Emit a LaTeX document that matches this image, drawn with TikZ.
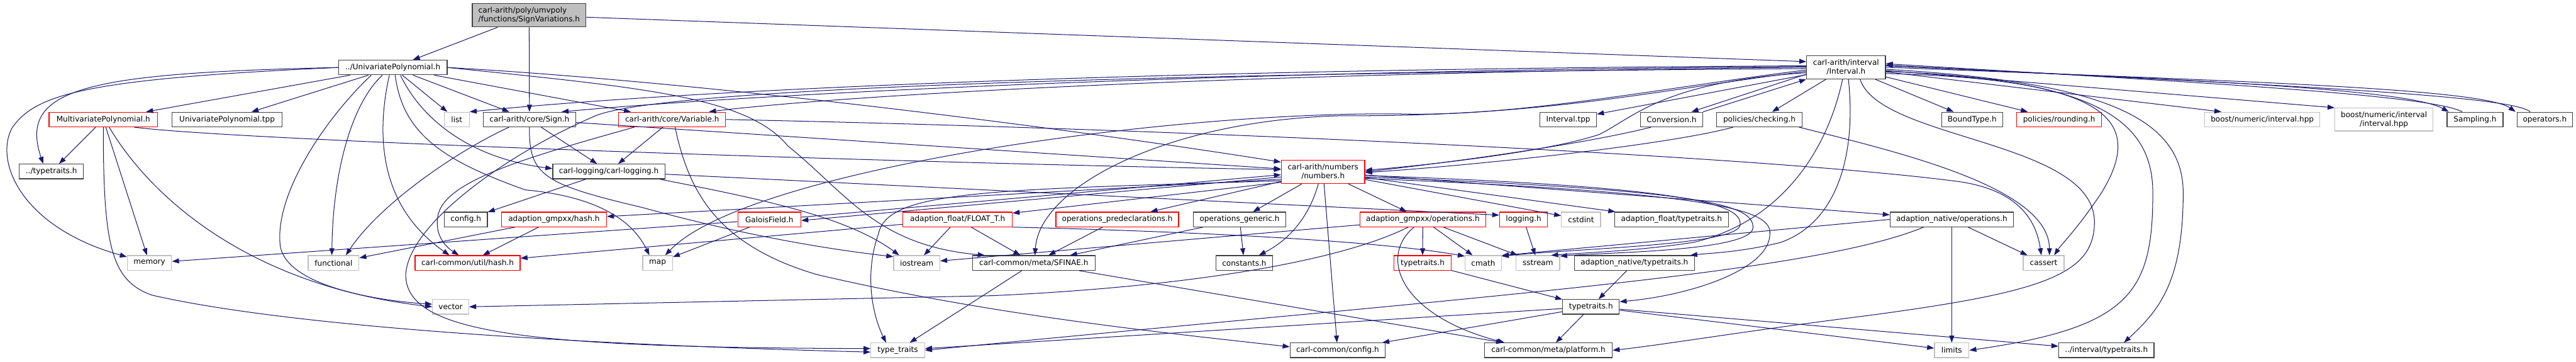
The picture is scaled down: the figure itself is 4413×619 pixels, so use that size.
\documentclass[tikz,border=0pt]{standalone}
\usepackage{fontspec}
\setmainfont{DejaVu Sans}
\usetikzlibrary{arrows.meta}
\definecolor{edgeblue}{HTML}{191970}
\definecolor{sysgray}{HTML}{BFBFBF}
\definecolor{boxline}{HTML}{404040}

\begin{document}
\begin{tikzpicture}[x=1pt,y=-1pt,
  font=\fontsize{13}{15}\selectfont,
  incl/.style={draw=boxline,fill=white,line width=1.3pt,inner sep=0pt,minimum height=25pt,minimum width=#1pt},
  redincl/.style={incl=#1,draw=red},
  sysincl/.style={incl=#1,draw=sysgray},
  rootincl/.style={incl=#1,fill=sysgray,minimum height=40pt,align=left},
  tall/.style={minimum height=40pt,align=center},
  dep/.style={draw=edgeblue,line width=1.1pt,-{Triangle[length=12pt,width=8.5pt]}}]
\path[use as bounding box,fill=white] (0,0) rectangle (4413,619);

% nodes, top to bottom
\node[rootincl=195] (sv) at (906.5,26) {carl-arith/poly/umvpoly\\/functions/SignVariations.h};
\node[incl=186] (up) at (673,115.5) {../UnivariatePolynomial.h};
\node[incl=135,tall] (interval) at (3162.5,115) {carl-arith/interval\\/Interval.h};

\node[redincl=186] (mp) at (177,204.5) {MultivariatePolynomial.h};
\node[incl=188] (uptpp) at (389,204.5) {UnivariatePolynomial.tpp};
\node[sysincl=43] (list) at (782.5,204.5) {list};
\node[incl=158] (sign) at (907,204.5) {carl-arith/core/Sign.h};
\node[redincl=183] (variable) at (1151.5,204.5) {carl-arith/core/Variable.h};
\node[incl=97] (intervaltpp) at (2686.5,204.5) {Interval.tpp};
\node[incl=107] (conversion) at (2863.5,204.5) {Conversion.h};
\node[incl=146] (checking) at (3014,204.5) {policies/checking.h};
\node[incl=105] (boundtype) at (3378.5,204.5) {BoundType.h};
\node[redincl=145] (rounding) at (3527.5,204.5) {policies/rounding.h};
\node[sysincl=197] (boostint) at (3875.5,204.5) {boost/numeric/interval.hpp};
\node[sysincl=168,tall,minimum height=39pt] (boostintint) at (4084,204.5) {boost/numeric/interval\\/interval.hpp};
\node[incl=96] (sampling) at (4240,204.5) {Sampling.h};
\node[incl=95] (operators) at (4359.5,204.5) {operators.h};

\node[incl=110] (reltraits) at (88,293.5) {../typetraits.h};
\node[incl=192] (clogging) at (1043,293.5) {carl-logging/carl-logging.h};
\node[redincl=143,tall] (numbers) at (2266.5,294) {carl-arith/numbers\\/numbers.h};

\node[incl=74] (config) at (798,375.5) {config.h};
\node[redincl=180] (gmpxxhash) at (949,375.5) {adaption\_gmpxx/hash.h};
\node[redincl=108] (galois) at (1318,375.5) {GaloisField.h};
\node[redincl=187] (floatt) at (1640.5,375.5) {adaption\_float/FLOAT\_T.h};
\node[redincl=210] (opspre) at (1914,375.5) {operations\_predeclarations.h};
\node[incl=159] (opsgen) at (2123.5,375.5) {operations\_generic.h};
\node[redincl=215] (gmpxxops) at (2437.5,375.5) {adaption\_gmpxx/operations.h};
\node[redincl=82] (loggingh) at (2610,375.5) {logging.h};
\node[sysincl=67] (cstdint) at (2708.5,375.5) {cstdint};
\node[incl=195] (floattraits) at (2863.5,375.5) {adaption\_float/typetraits.h};
\node[incl=211] (nativeops) at (3343.5,375.5) {adaption\_native/operations.h};

\node[sysincl=76] (memory) at (256,450) {memory};
\node[sysincl=87] (functional) at (571.5,450) {functional};
\node[redincl=180] (utilhash) at (801,450) {carl-common/util/hash.h};
\node[sysincl=51] (map) at (1126.5,450) {map};
\node[sysincl=79] (iostream) at (1570.5,450) {iostream};
\node[incl=210] (sfinae) at (1771,450) {carl-common/meta/SFINAE.h};
\node[incl=97] (constants) at (2131.5,450) {constants.h};
\node[redincl=98] (redtraits) at (2437,450) {typetraits.h};
\node[sysincl=62] (cmath) at (2541,450) {cmath};
\node[sysincl=75] (sstream) at (2634.5,450) {sstream};
\node[incl=206] (nativetraits) at (2800,450) {adaption\_native/typetraits.h};
\node[sysincl=70] (cassert) at (3501,450) {cassert};

\node[sysincl=62] (vector) at (772,525) {vector};
\node[incl=97] (numtraits) at (2725.5,525) {typetraits.h};

\node[sysincl=92] (stdtraits) at (1538,599.5) {type\_traits};
\node[incl=163] (cconfig) at (2291.5,599.5) {carl-common/config.h};
\node[incl=219] (platform) at (2652.5,599.5) {carl-common/meta/platform.h};
\node[sysincl=59] (limits) at (3343.5,599.5) {limits};
\node[incl=163] (ivaltraits) at (3608.5,599.5) {../interval/typetraits.h};

% SignVariations.h
\draw[dep] (sv) -- (up);
\draw[dep] (sv) -- (sign);
\draw[dep] (sv) -- (interval.172);

% ../UnivariatePolynomial.h
\draw[dep] (up) -- (mp);
\draw[dep] (up) -- (uptpp);
\draw[dep] (up) -- (list);
\draw[dep] (up) -- (sign);
\draw[dep] (up) -- (variable);
\draw[dep] (up.west) .. controls (150,125) and (30,150) .. ([xshift=-14pt]reltraits.north);
\draw[dep] (up.west) .. controls (150,135) and (60,160) .. (20,220) .. controls (-10,280) and (40,390) .. (memory.165);
\draw[dep] ([xshift=-18pt]up.south) .. controls (600,180) and (570,300) .. ([xshift=-3pt]functional.north);
\draw[dep] ([xshift=-37pt]up.south) .. controls (560,200) and (470,330) .. (480,420) .. controls (490,490) and (650,515) .. (vector.172);
\draw[dep] ([xshift=-6pt]up.south) .. controls (640,250) and (660,360) .. ([xshift=-31pt]utilhash.north);
\draw[dep] ([xshift=4pt]up.south) .. controls (690,230) and (760,275) .. (900,325) .. controls (1010,335) and (1080,370) .. ([xshift=-14pt]map.north);
\draw[dep] ([xshift=13pt]up.south) .. controls (720,200) and (800,270) .. ([yshift=5pt]clogging.west);
\draw[dep] (up.east) .. controls (1200,140) and (1800,215) .. (numbers.167);
\draw[dep] (up.east) .. controls (1100,150) and (1280,165) .. (1350,250) .. controls (1450,330) and (1500,420) .. ([xshift=-84pt]sfinae.north);

% MultivariatePolynomial.h
\draw[dep] (mp) -- (reltraits);
\draw[dep] (mp) -- (memory);
\draw[dep] ([xshift=10pt]mp.south) .. controls (260,340) and (430,490) .. (vector.west);
\draw[dep] (mp.south) .. controls (177,420) and (190,480) .. (260,505) .. controls (500,560) and (1000,590) .. ([yshift=-3pt]stdtraits.west);
\draw[dep] ([xshift=53pt]mp.south) .. controls (400,240) and (1500,278) .. (numbers.177);

% carl-arith/core/Sign.h
\draw[dep] ([xshift=-35pt]sign.south) .. controls (780,260) and (650,350) .. ([xshift=21pt]functional.north);
\draw[dep] (sign) -- (clogging);
\draw[dep] (sign) -- (numbers.176);
\draw[dep] (sign.south) .. controls (906,300) and (930,315) .. (1100,355) .. controls (1300,410) and (1450,430) .. (iostream.165);

% carl-arith/core/Variable.h
\draw[dep] (variable) -- (clogging);
\draw[dep] ([xshift=-65pt]variable.south) .. controls (900,270) and (760,310) .. (750,370) .. controls (745,400) and (760,420) .. ([xshift=-15pt]utilhash.north);
\draw[dep] (variable.east) .. controls (2000,220) and (3000,265) .. (3350,310) .. controls (3470,325) and (3490,390) .. ([xshift=-4pt]cassert.north);
\draw[dep] ([xshift=5pt]variable.south) .. controls (1180,330) and (1230,420) .. (1400,470) .. controls (1700,540) and (2000,570) .. ([yshift=6pt]cconfig.west);

% carl-logging
\draw[dep] (clogging) -- (config);
\draw[dep] (clogging) -- (loggingh.170);
\draw[dep] ([xshift=87pt]clogging.south) .. controls (1300,340) and (1450,370) .. ([xshift=-30pt]iostream.north);

% hash.h and GaloisField.h
\draw[dep] (gmpxxhash) -- (utilhash);
\draw[dep] (gmpxxhash) -- (functional);
\draw[dep] (galois) -- (map);
\draw[dep] (galois) -- (memory);
\draw[dep] (galois.4) -- (numbers.184);
\draw[dep] (numbers.187) -- (galois.-2);

% numbers.h
\draw[dep] (numbers.190) -- (gmpxxhash);
\draw[dep] (numbers.194) -- (floatt);
\draw[dep] (numbers) -- (opspre);
\draw[dep] (numbers) -- (opsgen);
\draw[dep] (numbers) -- (gmpxxops);
\draw[dep] (numbers) -- (cstdint);
\draw[dep] (numbers) -- (floattraits);
\draw[dep] (numbers) -- (nativeops);
\draw[dep] (numbers) -- (cconfig);
\draw[dep] ([xshift=-8pt]numbers.south) .. controls (2240,380) and (2200,415) .. ([xshift=25pt]constants.north);
\draw[dep] (numbers.192) .. controls (1700,325) and (1520,325) .. (1505,400) .. controls (1480,470) and (1495,540) .. ([xshift=-20pt]stdtraits.north);
\draw[dep] (numbers.-5) .. controls (2900,320) and (2985,350) .. (2981,385) .. controls (2977,420) and (2700,425) .. (cmath.20);
\draw[dep] (numbers.-7) .. controls (2920,325) and (3005,350) .. (3003,390) .. controls (3000,430) and (2750,432) .. (sstream.17);
\draw[dep] (numbers.-9) .. controls (2950,330) and (3035,360) .. (3032,400) .. controls (3032,460) and (2900,505) .. (numtraits.10);

% FLOAT_T.h and operations
\draw[dep] (floatt) -- (iostream);
\draw[dep] (floatt) -- (sfinae);
\draw[dep] (floatt) -- (utilhash);
\draw[dep] (floatt.-8) .. controls (2000,395) and (2350,410) .. (cmath.160);
\draw[dep] (opspre) -- (sfinae);
\draw[dep] (opsgen) -- (sfinae);
\draw[dep] (opsgen) -- (constants);

% adaption_gmpxx/operations.h
\draw[dep] (gmpxxops) -- (redtraits);
\draw[dep] (gmpxxops) -- (cmath);
\draw[dep] (gmpxxops) -- (sstream);
\draw[dep] (gmpxxops) -- (iostream);
\draw[dep] ([xshift=-25pt]gmpxxops.south) .. controls (2300,445) and (2050,490) .. (1700,506) -- (vector.east);
\draw[dep] ([xshift=-15pt]gmpxxops.south) .. controls (2360,440) and (2400,540) .. ([xshift=-75pt]platform.north);
\draw[dep] (loggingh) -- (sstream);

% typetraits
\draw[dep] (redtraits) -- (numtraits);
\draw[dep] (nativetraits) -- (numtraits);
\draw[dep] (numtraits) -- (stdtraits);
\draw[dep] (numtraits) -- (cconfig);
\draw[dep] (numtraits) -- (platform);
\draw[dep] (numtraits) -- (limits);
\draw[dep] (numtraits) -- (ivaltraits);
\draw[dep] (sfinae) -- (stdtraits);
\draw[dep] (sfinae) -- (platform);

% adaption_native/operations.h
\draw[dep] (nativeops) -- (cassert);
\draw[dep] (nativeops) -- (limits);
\draw[dep] (nativeops.west) -- (cmath.22);
\draw[dep] ([xshift=-48pt]nativeops.south) .. controls (3100,470) and (2500,510) .. (stdtraits.east);

% carl-arith/interval/Interval.h
\draw[dep] (interval.178) .. controls (2000,118) and (1200,152) .. (list.north east);
\draw[dep] (interval.179) .. controls (2000,122) and (1250,165) .. ([xshift=55pt]sign.north);
\draw[dep] (interval.180) .. controls (2000,127) and (1400,168) .. ([xshift=63pt]variable.north);
\draw[dep] (interval.182) .. controls (2000,125) and (1150,150) .. (1023,197) .. controls (880,257) and (700,380) .. (695,470) .. controls (695,570) and (900,595) .. ([yshift=3pt]stdtraits.west);
\draw[dep] (interval.184) .. controls (2850,150) and (2600,200) .. (2400,195) .. controls (2000,190) and (1280,290) .. ([xshift=13pt]map.north);
\draw[dep] (interval.186) .. controls (2850,152) and (2650,200) .. (2300,198) .. controls (2000,205) and (1780,320) .. ([xshift=2pt]sfinae.north);
\draw[dep] (interval.188) .. controls (2850,140) and (2800,200) .. (2740,230) .. controls (2650,260) and (2450,282) .. (numbers.2);
\draw[dep] (interval) -- (intervaltpp);
\draw[dep] (interval.190) -- ([xshift=-20pt]conversion.north east);
\draw[dep] (conversion.north east) -- (interval.south west);
\draw[dep] (interval) -- (checking);
\draw[dep] (interval) -- (boundtype);
\draw[dep] (interval) -- (rounding);
\draw[dep] (interval) -- ([xshift=-70pt]boostint.north);
\draw[dep] (interval) -- (boostintint.north west);
\draw[dep] (interval.2) .. controls (3700,135) and (4120,150) .. ([xshift=-45pt]sampling.north);
\draw[dep] ([xshift=-22pt]sampling.north) .. controls (4160,160) and (3700,138) .. (interval.5);
\draw[dep] (interval.0) .. controls (3800,138) and (4250,150) .. ([xshift=-50pt]operators.north);
\draw[dep] ([xshift=-25pt]operators.north) .. controls (4300,160) and (3800,142) .. (interval.3);
\draw[dep] (interval.-3) .. controls (3600,140) and (3740,200) .. (3740,330) .. controls (3740,480) and (3700,530) .. ([xshift=30pt]ivaltraits.north);
\draw[dep] (interval.-6) .. controls (3580,135) and (3688,200) .. (3688,330) .. controls (3688,500) and (3650,560) .. (limits.east);
\draw[dep] (interval.-9) .. controls (3600,135) and (3680,200) .. (3600,330) .. controls (3560,390) and (3530,420) .. ([xshift=18pt]cassert.north);
\draw[dep] ([xshift=24pt]interval.south) .. controls (3220,240) and (3588,240) .. (3588,380) .. controls (3588,470) and (3500,500) .. (3200,540) .. controls (3000,565) and (2850,590) .. (platform.east);
\draw[dep] ([xshift=4pt]interval.south) .. controls (3180,260) and (3150,380) .. (3050,415) .. controls (2980,432) and (2930,433) .. ([xshift=-8pt]nativetraits.north east);
\draw[dep] ([xshift=-6pt]interval.south) .. controls (3130,260) and (3050,380) .. (2900,415) .. controls (2800,430) and (2720,432) .. (sstream.30);

% Conversion.h and policies/checking.h
\draw[dep] ([xshift=-35pt]conversion.south) .. controls (2700,250) and (2450,282) .. (numbers.east);
\draw[dep] ([xshift=-45pt]checking.south) .. controls (2850,250) and (2500,285) .. (numbers.-1);
\draw[dep] ([xshift=68pt]checking.south) .. controls (3250,260) and (3510,320) .. ([xshift=10pt]cassert.north);
\end{tikzpicture}
\end{document}
